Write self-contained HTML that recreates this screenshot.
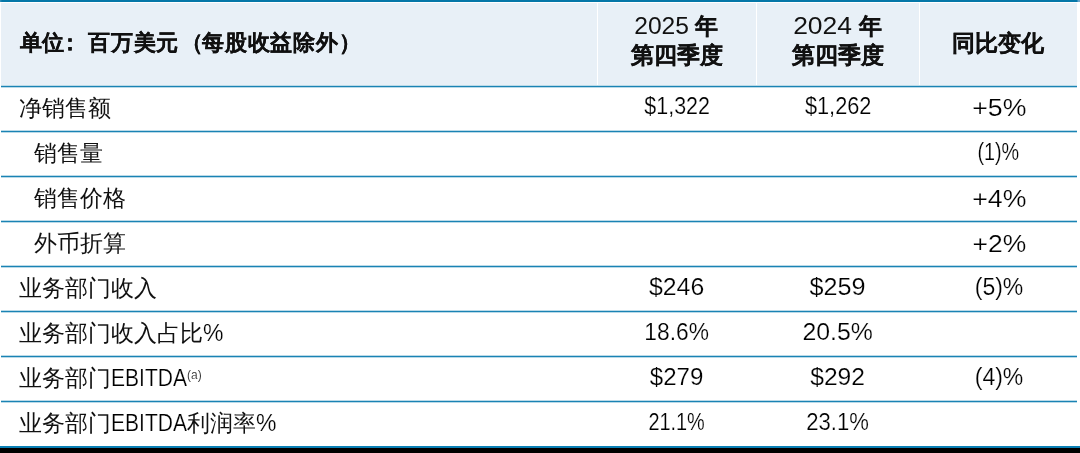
<!DOCTYPE html>
<html><head><meta charset="utf-8">
<style>
html,body{margin:0;will-change:transform;padding:0;background:#fff;width:1080px;height:453px;overflow:hidden;position:relative;font-family:"Liberation Sans",sans-serif;color:#111}
.a{position:absolute}
.hbg{left:1px;top:3px;width:1076px;height:82px;background:#e8f0f7}
.topline{left:0;top:0;width:1080px;height:2px;background:linear-gradient(90deg,#3a90bb 0,#0477a8 2px,#0477a8 1077px,#6aa5cc 1078px)}
.sep{top:3px;width:1px;height:82px;background:#fff}
.ln{left:1px;width:1076px;height:1px;background:#1a83b4;box-shadow:0 -1px 0 rgba(26,131,180,.3),0 1px 0 rgba(26,131,180,.3)}
.bline{left:0;top:446px;width:1080px;height:2px;background:#0a80b5}
.black{left:0;top:448px;width:1080px;height:5px;background:#000}
.t{white-space:nowrap;line-height:1}
.cjkb{font-weight:bold;font-size:23px;-webkit-text-stroke:0}
.cjk{font-size:23px}
.num{font-size:23px;text-align:center;width:200px;-webkit-text-stroke:0.2px #fff;color:#000}
.s{display:inline-block}
.num.cjkb,.cjkb{-webkit-text-stroke:0.2px #111;color:#111}
.e{display:inline-block;transform-origin:0 50%;-webkit-text-stroke:0.2px #fff;color:#000}
.p{-webkit-text-stroke:0.2px #fff;color:#000}
</style></head><body>
<div class="a topline"></div>
<div class="a hbg"></div>
<div class="a sep" style="left:597px"></div>
<div class="a sep" style="left:756px"></div>
<div class="a sep" style="left:919px"></div>
<div class="a ln" style="top:86px"></div>
<div class="a ln" style="top:131px"></div>
<div class="a ln" style="top:176px"></div>
<div class="a ln" style="top:221px"></div>
<div class="a ln" style="top:266px"></div>
<div class="a ln" style="top:311px"></div>
<div class="a ln" style="top:356px"></div>
<div class="a ln" style="top:401px"></div>
<div class="a bline"></div>
<div class="a black"></div>

<!-- header -->
<div class="a t cjkb" style="left:19.5px;top:32px;font-size:22px;letter-spacing:0.8px">单位<span style="position:relative;left:-6px">：</span>百万美元<span style="position:relative;left:2px">（</span>每股收益除外）</div>
<div class="a t num" style="left:561.7px;top:15px;-webkit-text-stroke:0;color:#111"><span class="s" style="transform:scaleX(1.07)">2025</span></div><div class="a t cjkb" style="left:695px;top:15px">年</div>
<div class="a t num cjkb" style="left:577px;top:44px">第四季度</div>
<div class="a t num" style="left:722.8px;top:15px;-webkit-text-stroke:0;color:#111"><span class="s" style="transform:scaleX(1.15)">2024</span></div><div class="a t cjkb" style="left:858.5px;top:15px">年</div>
<div class="a t num cjkb" style="left:738px;top:44px">第四季度</div>
<div class="a t num cjkb" style="left:898px;top:32px">同比变化</div>

<!-- rows -->
<div class="a t cjk" style="left:19px;top:97px">净销售额</div>
<div class="a t num" style="left:577px;top:95px"><span class="s" style="transform:scaleX(.933)">$1,322</span></div>
<div class="a t num" style="left:738px;top:95px"><span class="s" style="transform:scaleX(.946)">$1,262</span></div>
<div class="a t num" style="left:899px;top:97px"><span class="s" style="transform:scaleX(1.16)">+5%</span></div>

<div class="a t cjk" style="left:34px;top:142px">销售量</div>
<div class="a t num" style="left:898px;top:141px"><span class="s" style="transform:scaleX(.86)">(1)%</span></div>

<div class="a t cjk" style="left:34px;top:187px">销售价格</div>
<div class="a t num" style="left:899px;top:188px"><span class="s" style="transform:scaleX(1.16)">+4%</span></div>

<div class="a t cjk" style="left:34px;top:232px">外币折算</div>
<div class="a t num" style="left:899px;top:233px"><span class="s" style="transform:scaleX(1.15)">+2%</span></div>

<div class="a t cjk" style="left:19px;top:277px">业务部门收入</div>
<div class="a t num" style="left:577px;top:276px"><span class="s" style="transform:scaleX(1.08)">$246</span></div>
<div class="a t num" style="left:738px;top:276px"><span class="s" style="transform:scaleX(1.096)">$259</span></div>
<div class="a t num" style="left:899px;top:276px">(5)%</div>

<div class="a t cjk" style="left:19px;top:322px">业务部门收入占比<span class="p">%</span></div>
<div class="a t num" style="left:577px;top:321px"><span class="s" style="transform:scaleX(.99)">18.6%</span></div>
<div class="a t num" style="left:738px;top:321px"><span class="s" style="transform:scaleX(1.08)">20.5%</span></div>

<div class="a t cjk" style="left:19px;top:367px">业务部门<span class="e" style="transform:scaleX(.915)">EBITDA</span><span class="p" style="font-size:12px;position:absolute;left:168px;top:2px;-webkit-text-stroke:0.2px #fff">(a)</span></div>
<div class="a t num" style="left:577px;top:366px"><span class="s" style="transform:scaleX(1.047)">$279</span></div>
<div class="a t num" style="left:738px;top:366px"><span class="s" style="transform:scaleX(1.07)">$292</span></div>
<div class="a t num" style="left:899px;top:366px">(4)%</div>

<div class="a t cjk" style="left:19px;top:412px">业务部门<span class="e" style="transform:scaleX(.915);margin-right:-7px">EBITDA</span>利润率<span class="p">%</span></div>
<div class="a t num" style="left:577px;top:411px"><span class="s" style="transform:scaleX(.865)">21.1%</span></div>
<div class="a t num" style="left:738px;top:411px"><span class="s" style="transform:scaleX(.96)">23.1%</span></div>
</body></html>
